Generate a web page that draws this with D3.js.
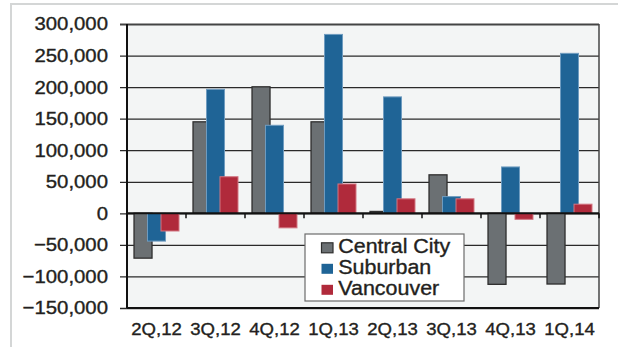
<!DOCTYPE html>
<html>
<head>
<meta charset="utf-8">
<script src="https://cdn.jsdelivr.net/npm/d3@7"></script>
<style>
  html, body { margin: 0; padding: 0; background: #ffffff; }
  svg { display: block; }
  text { font-family: "Liberation Sans", Arial, Helvetica, sans-serif; fill: #231f20; stroke: #231f20; stroke-width: 0.35px; }
</style>
</head>
<body>
<svg id="chart" width="618" height="347"></svg>
<script>
// Net change by quarter, three regions
const quarters = ["2Q,12", "3Q,12", "4Q,12", "1Q,13", "2Q,13", "3Q,13", "4Q,13", "1Q,14"];
const seriesNames = ["Central City", "Suburban", "Vancouver"];
const centralCity = [-71000, 145000, 200500, 145000, 3000, 61000, -112500, -112000];
const suburban = [-44000, 196500, 139500, 283500, 184500, 26500, 73500, 253500];
const vancouver = [-28000, 58000, -23000, 46500, 23000, 23000, -9500, 14500];
const yTicks = [-150000, -100000, -50000, 0, 50000, 100000, 150000, 200000, 250000, 300000];

const seriesValues = [centralCity, suburban, vancouver];
const fills = ["#6b7073", "#1f6496", "#b02a3b"];
const strokes = ["#2e2e2e", "#6f9cc0", "#d27682"];

const svg = d3.select("#chart");
const plot = { left: 127, right: 599, top: 24, bottom: 308 };
const stretch = 1.1; // slightly wide lettering

// outer frame
svg.append("path")
  .attr("d", "M11,347 V4 H618")
  .attr("fill", "none")
  .attr("stroke", "#d4d6d6")
  .attr("stroke-width", 2);

const x = d3.scaleBand().domain(quarters).range([plot.left, plot.right]).padding(0);
const inner = d3.scaleBand().domain(seriesNames)
  .range([x.bandwidth() * 0.119, x.bandwidth() * 0.805]).padding(0);
const barW = x.bandwidth() * 0.305;
const y = d3.scaleLinear().domain([-150000, 300000]).range([plot.bottom, plot.top]);

// plot background
svg.append("rect")
  .attr("x", plot.left).attr("y", plot.top)
  .attr("width", plot.right - plot.left).attr("height", plot.bottom - plot.top)
  .attr("fill", "#f3f5f5");

// gridlines + y axis
const yAxis = d3.axisLeft(y).tickValues(yTicks)
  .tickSize(plot.right - plot.left + 7)
  .tickPadding(12)
  .tickFormat(d3.format(","));
const yg = svg.append("g")
  .attr("transform", `translate(${plot.right},0)`)
  .call(yAxis);
yg.select(".domain").remove();
yg.selectAll(".tick line")
  .attr("stroke", "#2a2a2a")
  .attr("stroke-width", 1.3);
yg.selectAll(".tick")
  .filter(d => d === 300000)
  .select("line").attr("stroke", "#444").attr("stroke-width", 2);
yg.selectAll(".tick text")
  .attr("font-size", "18.5px")
  .attr("fill", "#231f20")
  .attr("font-family", "'Liberation Sans', Arial, sans-serif")
  .each(function () {
    const t = d3.select(this);
    const tx = +t.attr("x");
    t.attr("x", 0).attr("transform", `translate(${tx},0) scale(${stretch},1)`);
  });

// right border
svg.append("line")
  .attr("x1", plot.right).attr("x2", plot.right)
  .attr("y1", plot.top).attr("y2", plot.bottom)
  .attr("stroke", "#444").attr("stroke-width", 1.5);

// bars
seriesNames.forEach((name, si) => {
  svg.append("g")
    .selectAll("rect")
    .data(quarters.map((q, i) => ({ q, v: seriesValues[si][i] })))
    .join("rect")
    .attr("x", d => x(d.q) + inner(name))
    .attr("width", barW)
    .attr("y", d => y(Math.max(0, d.v)))
    .attr("height", d => Math.abs(y(d.v) - y(0)))
    .attr("fill", fills[si])
    .attr("stroke", strokes[si])
    .attr("stroke-width", si === 0 ? 1.3 : 1);
});

// zero line with category ticks
svg.append("line")
  .attr("x1", plot.left).attr("x2", plot.right)
  .attr("y1", y(0)).attr("y2", y(0))
  .attr("stroke", "#111").attr("stroke-width", 2);
const boundaries = quarters.map(q => x(q)).concat([plot.right]);
svg.append("g").selectAll("line")
  .data(boundaries)
  .join("line")
  .attr("x1", d => d).attr("x2", d => d)
  .attr("y1", y(0)).attr("y2", y(0) + 5)
  .attr("stroke", "#111").attr("stroke-width", 1.5);

// left axis and bottom border
svg.append("line")
  .attr("x1", plot.left).attr("x2", plot.left)
  .attr("y1", plot.top).attr("y2", plot.bottom)
  .attr("stroke", "#111").attr("stroke-width", 2);
svg.append("line")
  .attr("x1", plot.left).attr("x2", plot.right)
  .attr("y1", plot.bottom).attr("y2", plot.bottom)
  .attr("stroke", "#111").attr("stroke-width", 2);

// x axis labels
const xAxis = d3.axisBottom(x).tickSize(0).tickPadding(0);
const xg = svg.append("g")
  .attr("transform", `translate(0,${plot.bottom})`)
  .call(xAxis);
xg.select(".domain").remove();
xg.selectAll(".tick text")
  .attr("font-size", "17.2px")
  .attr("fill", "#231f20")
  .attr("font-family", "'Liberation Sans', Arial, sans-serif")
  .attr("dy", null)
  .attr("y", 0)
  .attr("transform", `translate(0,27) scale(${stretch - 0.02},1)`);

// legend
const legend = svg.append("g").attr("transform", "translate(305,234)");
legend.append("rect")
  .attr("width", 159).attr("height", 67)
  .attr("fill", "#ffffff")
  .attr("stroke", "#6c6c6c").attr("stroke-width", 1.2);
seriesNames.forEach((name, i) => {
  const row = legend.append("g").attr("transform", `translate(0,${19.3 + i * 21})`);
  row.append("rect")
    .attr("x", 16.5).attr("y", -10.5)
    .attr("width", 11.5).attr("height", 10)
    .attr("fill", fills[i])
    .attr("stroke", i === 0 ? "#2e2e2e" : "none")
    .attr("stroke-width", 1.2);
  row.append("text")
    .attr("transform", `translate(33.3,0) scale(${stretch},1)`)
    .attr("font-size", "19.5px")
    .text(name);
});
</script>
</body>
</html>
